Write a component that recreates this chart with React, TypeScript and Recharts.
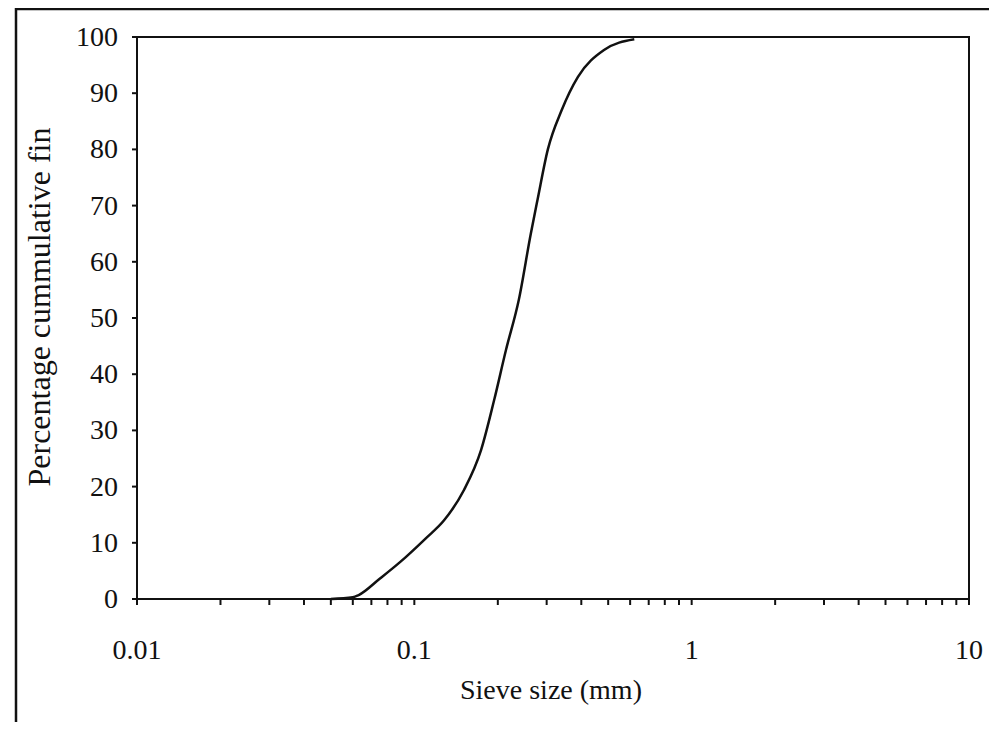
import { LineChart, Line, XAxis, YAxis, ReferenceArea } from 'recharts';

const sieveSize = [0.05, 0.06, 0.063, 0.075, 0.089, 0.11, 0.128, 0.151, 0.174, 0.194, 0.214, 0.238, 0.263, 0.278, 0.303, 0.34, 0.389, 0.483, 0.621];
const cumulativeFine = [0, 0.3, 0.7, 3.6, 6.6, 10.8, 14, 19.4, 26.5, 35.4, 44.3, 53.2, 65, 71, 80, 87, 92.9, 97.7, 99.6];

const decadeTicks = [0.01, 0.1, 1, 10];
const minorTicks = [
  0.01, 0.02, 0.03, 0.04, 0.05, 0.06, 0.07, 0.08, 0.09,
  0.1, 0.2, 0.3, 0.4, 0.5, 0.6, 0.7, 0.8, 0.9,
  1, 2, 3, 4, 5, 6, 7, 8, 9, 10,
];
const yTicks = [0, 10, 20, 30, 40, 50, 60, 70, 80, 90, 100];

const data = sieveSize.map((s, i) => ({ size: s, fine: cumulativeFine[i] }));

const font = '"Liberation Serif", "Times New Roman", serif';
const ink = '#111';

function XTick(props: any) {
  const { x, y, payload } = props;
  const v = payload.value;
  if (!decadeTicks.includes(v)) return null;
  return (
    <text x={x} y={y + 52} textAnchor="middle" fontFamily={font} fontSize={28} fill={ink}>
      {String(v)}
    </text>
  );
}

function YTick(props: any) {
  const { x, y, payload } = props;
  return (
    <text x={x - 4} y={y + 9} textAnchor="end" fontFamily={font} fontSize={28} fill={ink}>
      {payload.value}
    </text>
  );
}

export default function App() {
  return (
    <div style={{ position: 'relative', margin: -8, width: 997, height: 730, background: '#fff', overflow: 'hidden' }}>
      <LineChart
        width={997}
        height={730}
        data={data}
        margin={{ top: 37, right: 28, left: 0, bottom: 0 }}
        style={{ position: 'absolute', left: 0, top: 0 }}
      >
        <XAxis
          dataKey="size"
          type="number"
          scale="log"
          domain={[0.01, 10]}
          ticks={minorTicks}
          interval={0}
          height={131}
          tickSize={6}
          stroke={ink}
          strokeWidth={2}
          tick={<XTick />}
          allowDataOverflow
          label={{
            content: () => (
              <text x={551} y={699} textAnchor="middle" fontFamily={font} fontSize={28} fill={ink}>
                Sieve size (mm)
              </text>
            ),
          }}
        />
        <YAxis
          type="number"
          domain={[0, 100]}
          ticks={yTicks}
          interval={0}
          width={137}
          tickSize={5}
          tickMargin={10}
          stroke={ink}
          strokeWidth={2}
          tick={<YTick />}
          label={{
            content: () => (
              <text
                x={0}
                y={0}
                transform="translate(50, 307) rotate(-90)"
                textAnchor="middle"
                fontFamily={font}
                fontSize={32}
                fill={ink}
              >
                Percentage cummulative fin
              </text>
            ),
          }}
        />
        <ReferenceArea x1={0.01} x2={10} y1={0} y2={100} fill="none" stroke={ink} strokeWidth={2} />
        <Line
          type="monotone"
          dataKey="fine"
          stroke={ink}
          strokeWidth={2.5}
          dot={false}
          isAnimationActive={false}
        />
      </LineChart>
      {/* scanned page frame */}
      <svg
        width={997}
        height={730}
        style={{ position: 'absolute', left: 0, top: 0, pointerEvents: 'none' }}
      >
        <path d="M997,9 H16 V724 H997" fill="none" stroke={ink} strokeWidth={2.5} />
      </svg>
    </div>
  );
}
